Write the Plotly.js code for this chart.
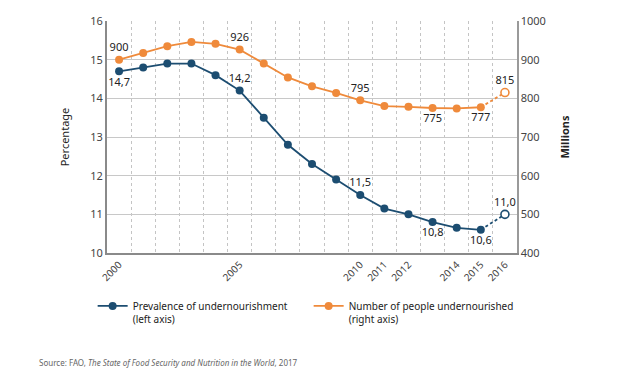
<!DOCTYPE html>
<html>
<head>
<meta charset="utf-8">
<script src="https://cdn.plot.ly/plotly-3.0.1.min.js"></script>
<style>html,body{margin:0;padding:0;background:#fff;}#chart{width:631px;height:372px;}</style>
</head>
<body>
<div id="chart"></div>
<script>
// ---- data ----
var years = [2000,2001,2002,2003,2004,2005,2006,2007,2008,2009,2010,2011,2012,2013,2014,2015,2016];
var prevalence = [14.7,14.8,14.9,14.9,14.6,14.2,13.5,12.8,12.3,11.9,11.5,11.15,11.0,10.8,10.65,10.6,11.0];
var undernourished = [900,917,935,946,941,926,890,854,831,814,795,780,778,775,774,777,815];
var tickYears = [2000,2005,2010,2011,2012,2014,2015,2016];
var prevLabelIdx = {0:'bottom center',5:'top center',10:'top center',13:'bottom center',15:'bottom center',16:'top center'};
var numLabelIdx = {0:'top center',5:'top center',10:'top center',13:'bottom center',15:'bottom center',16:'top center'};
var nameA = 'Prevalence of undernourishment<br>(left axis)';
var nameB = 'Number of people undernourished<br>(right axis)';

var blue = '#1c4d71', orange = '#ef8a3b';
var font = 'Noto Sans, Open Sans, sans-serif';

function labels(vals, idx, fmt){
  return vals.map(function(v,i){ return (i in idx) ? fmt(v) : ''; });
}
function positions(vals, idx){
  return vals.map(function(v,i){ return (i in idx) ? idx[i] : 'top center'; });
}
var fmtPrev = function(v){ return v.toFixed(1).replace('.', ','); };
var fmtNum = function(v){ return String(v); };

var nSolid = years.length - 1;
var prevText = labels(prevalence, prevLabelIdx, fmtPrev);
var prevPos = positions(prevalence, prevLabelIdx);
var numText = labels(undernourished, numLabelIdx, fmtNum);
var numPos = positions(undernourished, numLabelIdx);
var lblFont = {family:font,size:11,color:'#222'};

var traces = [
  {x: years.slice(nSolid-1), y: prevalence.slice(nSolid-1), showlegend:false, type:'scatter', mode:'lines',
   line:{color:blue,width:1.8,dash:'3px,2.5px'}, yaxis:'y', hoverinfo:'skip'},
  {x: years.slice(0,nSolid), y: prevalence.slice(0,nSolid), name: nameA, type:'scatter', mode:'lines+markers+text',
   text: prevText.slice(0,nSolid), textposition: prevPos.slice(0,nSolid), textfont:lblFont,
   line:{color:blue,width:1.8}, marker:{color:blue,size:8}, yaxis:'y', cliponaxis:false},
  {x: years.slice(nSolid), y: prevalence.slice(nSolid), showlegend:false, type:'scatter', mode:'markers+text',
   text: prevText.slice(nSolid), textposition: prevPos.slice(nSolid), textfont:lblFont,
   marker:{color:'#fff',size:8,line:{color:blue,width:1.6}}, yaxis:'y', cliponaxis:false},
  {x: years.slice(nSolid-1), y: undernourished.slice(nSolid-1), showlegend:false, type:'scatter', mode:'lines',
   line:{color:orange,width:1.8,dash:'3px,2.5px'}, yaxis:'y2', hoverinfo:'skip'},
  {x: years.slice(0,nSolid), y: undernourished.slice(0,nSolid), name: nameB, type:'scatter', mode:'lines+markers+text',
   text: numText.slice(0,nSolid), textposition: numPos.slice(0,nSolid), textfont:lblFont,
   line:{color:orange,width:1.8}, marker:{color:orange,size:8}, yaxis:'y2', cliponaxis:false},
  {x: years.slice(nSolid), y: undernourished.slice(nSolid), showlegend:false, type:'scatter', mode:'markers+text',
   text: numText.slice(nSolid), textposition: numPos.slice(nSolid), textfont:lblFont,
   marker:{color:'#fff',size:8,line:{color:orange,width:1.6}}, yaxis:'y2', cliponaxis:false}
];

var layout = {
  width:631, height:372,
  margin:{l:107, r:114, t:21, b:119},
  paper_bgcolor:'#fff', plot_bgcolor:'#fff',
  font:{family:font, size:11, color:'#333'},
  showlegend:true,
  legend:{orientation:'h', x:-0.035, y:-0.172, xanchor:'left', yanchor:'top',
          font:{family:font,size:10,color:'#222'}, itemwidth:30, entrywidth:171,
          tracegroupgap:0, valign:'top'},
  xaxis:{range:[1999.5,2016.5], tickvals:tickYears, ticktext:tickYears.map(String),
         tickangle:-45, showgrid:false, zeroline:false, ticks:'',
         showline:true, linecolor:'#8a8a8a', linewidth:2,
         tickfont:{family:font,size:10,color:'#444'},
         minor:{tick0:1999.5, dtick:1, showgrid:true, gridcolor:'#c4c4c4', griddash:'dot', gridwidth:1, ticks:''}},
  yaxis:{range:[10,16], dtick:1, showgrid:true, gridcolor:'#c8c8c8', gridwidth:1, zeroline:false,
         showline:true, linecolor:'#8a8a8a', linewidth:2, ticks:'',
         tickfont:{family:font,size:11,color:'#444'},
         title:{text:'Percentage', font:{family:font,size:11,color:'#222'}, standoff:18}},
  yaxis2:{range:[400,1000], dtick:100, overlaying:'y', side:'right', showgrid:false, zeroline:false,
          showline:true, linecolor:'#9a9a9a', linewidth:1.5, ticks:'',
          tickfont:{family:font,size:11,color:'#444'},
          title:{text:'<b>Millions</b>', font:{family:font,size:11,color:'#222'}, standoff:16}},
  annotations:[
    {xref:'paper', yref:'paper', x:-0.17, y:-0.47, xanchor:'left', yanchor:'middle', showarrow:false,
     text:'Source: FAO, <i>The State of Food Security and Nutrition in the World</i>, 2017',
     font:{family:font,size:8,color:'#666'}}
  ]
};

Plotly.newPlot('chart', traces, layout, {displayModeBar:false, staticPlot:true});
</script>
</body>
</html>
